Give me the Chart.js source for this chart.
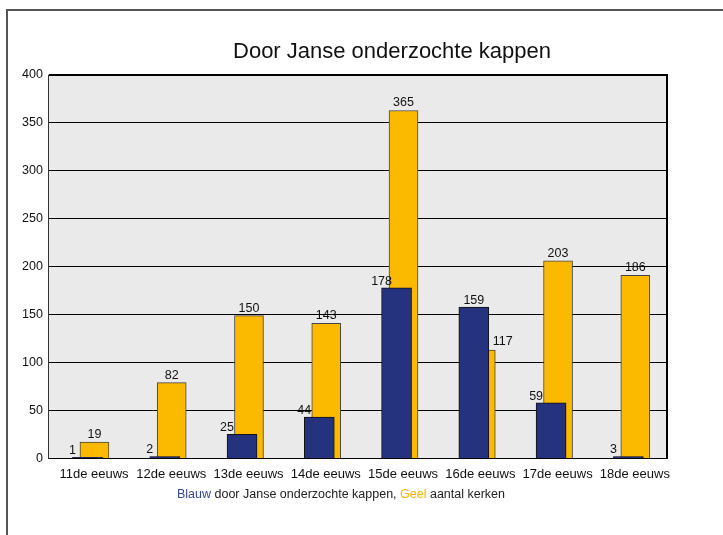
<!DOCTYPE html>
<html>
<head>
<meta charset="utf-8">
<title>Door Janse onderzochte kappen</title>
<script src="https://cdn.jsdelivr.net/npm/chart.js@4/dist/chart.umd.min.js"></script>
<style>
    html, body { margin: 0; padding: 0; background: #fff; overflow: hidden; }
    #wrap { position: relative; width: 723px; height: 535px; }
    #kader { position: absolute; left: 6px; top: 9px; width: 800px; height: 600px; border: 2px solid #555; }
    #kappenChart { position: absolute; left: 0; top: 0; }
</style>
</head>
<body>
<div id="wrap">
    <div id="kader"></div>
    <canvas id="kappenChart" width="723" height="535" style="width:723px;height:535px"></canvas>
</div>
<script>
const eeuwen = ['11de eeuws', '12de eeuws', '13de eeuws', '14de eeuws', '15de eeuws', '16de eeuws', '17de eeuws', '18de eeuws']
// hoogte van de balken zoals getekend
const blauwHoogte = [1, 2, 25, 43, 178, 158, 58, 2]
const geelHoogte = [17, 79, 149, 141, 363, 113, 206, 191]
// getallen boven de balken
const blauwLabel = ['1', '2', '25', '44', '178', '159', '59', '3']
const geelLabel = ['19', '82', '150', '143', '365', '117', '203', '186']
const yTicks = [0, 50, 100, 150, 200, 250, 300, 350, 400]

const titel = 'Door Janse onderzochte kappen'
const onderschrift = [
    { tekst: 'Blauw', kleur: '#34449a' },
    { tekst: ' door Janse onderzochte kappen, ', kleur: '#222' },
    { tekst: 'Geel', kleur: '#f9b400' },
    { tekst: ' aantal kerken', kleur: '#222' }
]

const BLAUW = '#25337f'
const GEEL = '#fbb900'
const FONT = '"Liberation Sans", Arial, sans-serif'
const geelVerschuiving = 0.09   // geel staat iets rechts achter blauw
const labelVerschuiving = 0.084

const plotAchtergrond = {
    id: 'plotAchtergrond',
    beforeDraw: (chart) => {
        const { ctx, chartArea } = chart
        ctx.save()
        ctx.fillStyle = '#eaeaea'
        ctx.fillRect(chartArea.left, chartArea.top, chartArea.right - chartArea.left, chartArea.bottom - chartArea.top)
        ctx.restore()
    },
    afterDatasetsDraw: (chart) => {
        const { ctx, chartArea } = chart
        ctx.save()
        ctx.strokeStyle = '#000'
        ctx.lineWidth = 2
        ctx.beginPath()
        ctx.moveTo(chartArea.left, chartArea.top)
        ctx.lineTo(chartArea.right, chartArea.top)
        ctx.lineTo(chartArea.right, chartArea.bottom)
        ctx.stroke()
        ctx.restore()
    }
}

const waardeLabels = {
    id: 'waardeLabels',
    afterDatasetsDraw: (chart) => {
        const { ctx } = chart
        const metaBlauw = chart.getDatasetMeta(0)
        const metaGeel = chart.getDatasetMeta(1)
        ctx.save()
        ctx.font = '12.5px ' + FONT
        ctx.fillStyle = '#111'
        ctx.textBaseline = 'alphabetic'
        eeuwen.forEach((_, i) => {
            const b = metaBlauw.data[i]
            const g = metaGeel.data[i]
            const blauwVoor = blauwHoogte[i] > geelHoogte[i]
            ctx.textAlign = 'center'
            ctx.fillText(blauwLabel[i], blauwVoor ? b.x : b.x - b.width / 2, b.y - 3)
            if (blauwVoor) {
                ctx.textAlign = 'left'
                ctx.fillText(geelLabel[i], b.x + b.width / 2 + 4, g.y - 5)
            } else {
                ctx.fillText(geelLabel[i], g.x, g.y - 4)
            }
        })
        ctx.restore()
    }
}

const onderschriften = {
    id: 'onderschriften',
    afterDraw: (chart) => {
        const { ctx } = chart
        ctx.save()
        ctx.textBaseline = 'alphabetic'
        ctx.font = '22px ' + FONT
        ctx.fillStyle = '#111'
        ctx.textAlign = 'center'
        ctx.fillText(titel, 392, 58)
        ctx.font = '12.5px ' + FONT
        ctx.textAlign = 'left'
        let x = 177
        onderschrift.forEach(deel => {
            ctx.fillStyle = deel.kleur
            ctx.fillText(deel.tekst, x, 498)
            x += ctx.measureText(deel.tekst).width
        })
        ctx.restore()
    }
}

new Chart(document.getElementById('kappenChart'), {
    type: 'bar',
    data: {
        datasets: [
            {
                label: 'Blauw',
                data: blauwHoogte.map((v, i) => ({ x: i, y: v })),
                backgroundColor: BLAUW,
                borderColor: '#111',
                borderWidth: 1,
                barThickness: 30,
                grouped: false
            },
            {
                label: 'Geel',
                data: geelHoogte.map((v, i) => ({ x: i + geelVerschuiving, y: v })),
                backgroundColor: GEEL,
                borderColor: '#444',
                borderWidth: 1,
                barThickness: 29,
                grouped: false
            }
        ]
    },
    options: {
        responsive: false,
        animation: false,
        devicePixelRatio: 1,
        layout: {
            padding: { top: 75, left: 16, right: 56, bottom: 53 }
        },
        plugins: {
            legend: { display: false },
            title: { display: false },
            tooltip: { enabled: false }
        },
        scales: {
            x: {
                type: 'linear',
                min: -0.5,
                max: 7.5,
                offset: false,
                grid: { display: false },
                border: { color: '#000', width: 1 },
                afterBuildTicks: (scale) => {
                    scale.ticks = eeuwen.map((_, i) => ({ value: i + labelVerschuiving }))
                },
                ticks: {
                    autoSkip: false,
                    maxRotation: 0,
                    padding: 0,
                    color: '#111',
                    font: { family: FONT, size: 13 },
                    callback: (v) => eeuwen[Math.round(v)]
                }
            },
            y: {
                min: 0,
                max: 400,
                afterBuildTicks: (scale) => {
                    scale.ticks = yTicks.map(v => ({ value: v }))
                },
                grid: { color: '#000', lineWidth: 1, drawTicks: false },
                border: { color: '#333', width: 1 },
                ticks: {
                    padding: 6,
                    color: '#111',
                    font: { family: FONT, size: 12.5 }
                }
            }
        }
    },
    plugins: [plotAchtergrond, waardeLabels, onderschriften]
})
</script>
</body>
</html>
